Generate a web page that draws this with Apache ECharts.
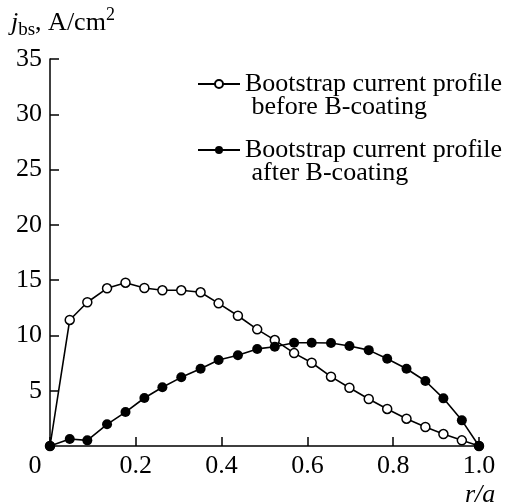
<!DOCTYPE html>
<html><head><meta charset="utf-8">
<script src="https://cdn.jsdelivr.net/npm/echarts@6/dist/echarts.min.js"></script>
<style>html,body{margin:0;padding:0;background:#fff}#c{width:511px;height:504px}</style>
</head><body><div id="c"></div>
<script>
// normalized radius r/a (shared by both profiles)
const rOverA = [0, 0.046, 0.087, 0.133, 0.176, 0.220, 0.262, 0.306, 0.351, 0.393, 0.438, 0.483,
                0.524, 0.569, 0.610, 0.655, 0.698, 0.743, 0.786, 0.831, 0.875, 0.917, 0.960, 1.0];
// j_bs before B-coating (A/cm^2)
const beforeCoating = [0, 11.4, 13.0, 14.26, 14.77, 14.29, 14.08, 14.08, 13.9, 12.9, 11.78, 10.55,
                       9.58, 8.40, 7.53, 6.27, 5.27, 4.25, 3.35, 2.47, 1.72, 1.08, 0.51, 0];
// j_bs after B-coating (A/cm^2)
const afterCoating = [0, 0.63, 0.51, 1.96, 3.07, 4.34, 5.31, 6.21, 6.98, 7.78, 8.20, 8.78,
                      8.98, 9.34, 9.34, 9.31, 9.05, 8.67, 7.89, 6.99, 5.88, 4.31, 2.32, 0];
const seriesNames = ['Bootstrap current profile\n before B-coating', 'Bootstrap current profile\n after B-coating'];
const xTickValues = [0, 0.2, 0.4, 0.6, 0.8, 1.0];
const xTickLabels = ['0', '0.2', '0.4', '0.6', '0.8', '1.0'];
const yTickValues = [5, 10, 15, 20, 25, 30, 35];
const yTickLabels = ['5', '10', '15', '20', '25', '30', '35'];

const FONT = 'Liberation Serif';
const FS = 26;
const chart = echarts.init(document.getElementById('c'));
const pairs = (ys) => rOverA.map((x, i) => [x, ys[i]]);

const legendCommon = {
  orient: 'vertical', left: 197, padding: 0, itemWidth: 42, itemHeight: 10, itemGap: 0,
  formatter: (name) => ' \n' + name,
  textStyle: { fontFamily: FONT, fontSize: FS, color: '#000', lineHeight: 23 }
};

chart.setOption({
  animation: false,
  backgroundColor: '#fff',
  title: [
    { text: '{i|j}{s|bs}{n|, A/cm}{p|2}', left: 11, top: 6, padding: 0,
      textStyle: { rich: {
        i: { fontFamily: FONT, fontSize: FS, fontStyle: 'italic', fontWeight: 'normal', color: '#000', lineHeight: 28 },
        s: { fontFamily: FONT, fontSize: 19, fontWeight: 'normal', color: '#000', verticalAlign: 'bottom', lineHeight: 34 },
        n: { fontFamily: FONT, fontSize: FS, fontWeight: 'normal', color: '#000', lineHeight: 28 },
        p: { fontFamily: FONT, fontSize: 18, fontWeight: 'normal', color: '#000', verticalAlign: 'top', lineHeight: 18 }
      } } },
    { text: 'r/a', left: 465, top: 482, padding: 0,
      textStyle: { fontFamily: FONT, fontSize: FS, fontStyle: 'italic', fontWeight: 'normal', color: '#000' } }
  ],
  legend: [
    Object.assign({ data: [seriesNames[0]], top: 48 }, legendCommon),
    Object.assign({ data: [seriesNames[1]], top: 114 }, legendCommon)
  ],
  grid: { left: 50, right: 32, top: 59, bottom: 58 },
  xAxis: {
    type: 'value', min: 0, max: 1, interval: 0.2,
    axisLine: { lineStyle: { color: '#000', width: 1.5 } },
    axisTick: { inside: true, length: 9, lineStyle: { color: '#000', width: 1.5 } },
    splitLine: { show: false },
    axisLabel: {
      margin: 7, color: '#000', fontFamily: FONT, fontSize: FS,
      formatter: (v) => {
        const i = xTickValues.findIndex(t => Math.abs(t - v) < 1e-6);
        const s = i >= 0 ? xTickLabels[i] : '';
        return i === 0 ? '{z|' + s + '}' : s;
      },
      rich: { z: { fontFamily: FONT, fontSize: FS, color: '#000', padding: [0, 30, 0, 0] } }
    }
  },
  yAxis: {
    type: 'value', min: 0, max: 35, interval: 5,
    axisLine: { show: true, lineStyle: { color: '#000', width: 1.5 } },
    axisTick: { show: true, inside: true, length: 9, lineStyle: { color: '#000', width: 1.5 } },
    splitLine: { show: false },
    axisLabel: {
      margin: 8, color: '#000', fontFamily: FONT, fontSize: FS, showMinLabel: false,
      formatter: (v) => {
        const i = yTickValues.findIndex(t => Math.abs(t - v) < 1e-6);
        return i >= 0 ? yTickLabels[i] : '';
      }
    }
  },
  series: [
    { name: seriesNames[0], type: 'line', data: pairs(beforeCoating), symbol: 'circle', symbolSize: 9,
      lineStyle: { color: '#000', width: 1.6 }, itemStyle: { color: '#fff', borderColor: '#000', borderWidth: 1.5 },
      z: 2 },
    { name: seriesNames[1], type: 'line', data: pairs(afterCoating), symbol: 'circle', symbolSize: 10,
      lineStyle: { color: '#000', width: 1.6 }, itemStyle: { color: '#000', borderColor: '#000', borderWidth: 0 },
      z: 3 }
  ]
});
</script></body></html>
